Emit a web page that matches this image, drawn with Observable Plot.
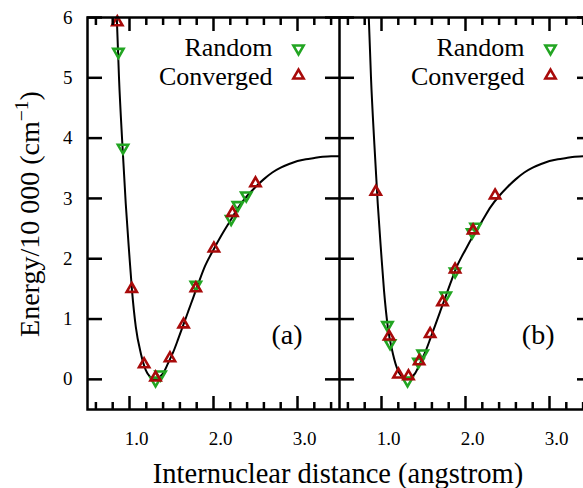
<!DOCTYPE html>
<html><head><meta charset="utf-8">
<script src="https://cdn.jsdelivr.net/npm/d3@7"></script>
<script src="https://cdn.jsdelivr.net/npm/@observablehq/plot@0.6"></script>
<style>
body{margin:0;background:#fff;}
#wrap{position:relative;width:583px;height:488px;overflow:hidden;background:#fff;font-family:"Liberation Serif",serif;color:#000;}
.panel{position:absolute;top:0;height:460px;}
.panel svg{max-width:none !important;}
#ylab{position:absolute;left:30px;top:214px;transform:translate(-50%,-50%) rotate(-90deg);white-space:nowrap;font-size:28px;line-height:1.1;}
#ylab sup{font-size:0.7em;line-height:0;vertical-align:0.55em;}
#xlab{position:absolute;left:338px;top:474px;transform:translate(-50%,-50%);white-space:nowrap;font-size:28.5px;line-height:1.1;}
</style></head><body>
<div id="wrap">
  <div id="pa" class="panel" style="left:0;width:339px"></div>
  <div id="pb" class="panel" style="left:339px;width:252px"></div>
  <div id="ylab">Energy/10 000 (cm<sup>−1</sup>)</div>
  <div id="xlab">Internuclear distance (angstrom)</div>
</div>
<script>
// Potential curve
const curveR = [0.835, 0.85, 0.875, 0.915, 0.955, 0.995, 1.03, 1.075, 1.135, 1.195, 1.245, 1.29, 1.32, 1.36, 1.40, 1.46, 1.52, 1.58, 1.64, 1.70, 1.76, 1.82, 1.90, 2.0, 2.1, 2.2, 2.3, 2.4, 2.5, 2.6, 2.7, 2.8, 2.9, 3.0, 3.1, 3.2, 3.3, 3.4, 3.5];
const curveE = [6.4, 5.95, 5.0, 3.9, 2.92, 2.12, 1.47, 0.87, 0.43, 0.15, 0.04, 0.0, 0.0, 0.04, 0.10, 0.27, 0.45, 0.67, 0.90, 1.13, 1.36, 1.59, 1.88, 2.15, 2.40, 2.63, 2.86, 3.04, 3.19, 3.32, 3.43, 3.51, 3.57, 3.62, 3.65, 3.67, 3.69, 3.70, 3.70];

// Panel (a)
const randA_R = [0.868, 0.923, 1.31, 1.37, 1.79, 2.21, 2.29, 2.39];
const randA_E = [5.43, 3.84, -0.02, 0.08, 1.57, 2.66, 2.89, 3.05];
const convA_R = [0.855, 1.027, 1.174, 1.31, 1.482, 1.644, 1.79, 2.005, 2.225, 2.50];
const convA_E = [5.92, 1.50, 0.25, 0.03, 0.35, 0.91, 1.51, 2.17, 2.76, 3.25];

// Panel (b)
const randB_R = [1.071, 1.102, 1.31, 1.44, 1.49, 1.765, 1.876, 2.08, 2.12];
const randB_E = [0.90, 0.60, -0.02, 0.29, 0.43, 1.39, 1.79, 2.44, 2.53];
const convB_R = [0.932, 1.09, 1.202, 1.321, 1.448, 1.579, 1.726, 1.876, 2.09, 2.352];
const convB_E = [3.11, 0.71, 0.08, 0.05, 0.30, 0.75, 1.28, 1.82, 2.47, 3.05];

const yTicks = [0, 1, 2, 3, 4, 5, 6];
const xMajor = [1, 2, 3];
const xMinor = [0.6, 0.8, 1.2, 1.4, 1.6, 1.8, 2.2, 2.4, 2.6, 2.8, 3.2, 3.4];
const legendLabels = ["Random", "Converged"];
const panelLabels = ["(a)", "(b)"];

const RED = "#a80a0a", GREEN = "#22a522";

function pts(rs, es) { return rs.map((r, i) => ({r, e: es[i]})); }

function panel({randR, randE, convR, convE, label, first}) {
  const fs = "Liberation Serif";
  const tick = {strokeWidth: 2.5, fill: "none", label: null};
  const sym = {r: 3.8, strokeWidth: 2.6, fill: "none"};
  return Plot.plot({
    width: first ? 339 : 252,
    height: 460,
    marginLeft: first ? 87 : 0, marginRight: 0, marginTop: 17, marginBottom: 51,
    x: {domain: [0.5, 3.5]},
    y: {domain: [-0.5, 6]},
    style: {fontFamily: fs, background: "transparent", color: "#000", overflow: "hidden", maxWidth: "none"},
    marks: [
      Plot.line(pts(curveR, curveE), {x: "r", y: "e", curve: "monotone-x", stroke: "#000", strokeWidth: 2, clip: true}),
      Plot.dot(pts(randR, randE), {x: "r", y: "e", symbol: "triangle", rotate: 180, stroke: GREEN, ...sym}),
      Plot.dot(pts(convR, convE), {x: "r", y: "e", symbol: "triangle", stroke: RED, ...sym}),
      Plot.axisY({anchor: "left", ticks: yTicks, tickSize: -15, ...tick}),
      Plot.axisY({anchor: "right", ticks: yTicks, tickSize: -15, ...tick}),
      Plot.axisX({anchor: "bottom", ticks: xMajor, tickSize: -13, ...tick}),
      Plot.axisX({anchor: "bottom", ticks: xMinor, tickSize: -7, ...tick}),
      Plot.axisX({anchor: "top", ticks: xMajor, tickSize: -13, ...tick}),
      Plot.axisX({anchor: "top", ticks: xMinor, tickSize: -7, ...tick}),
      first ? Plot.axisY({anchor: "left", ticks: yTicks, tickSize: 0, tickPadding: 15, tickFormat: d => String(d), fontSize: 19, fontFamily: fs, label: null}) : null,
      Plot.axisX({anchor: "bottom", ticks: xMajor, tickSize: 0, tickPadding: 22, tickFormat: d3.format(".1f"), dx: 7, fontSize: 19, fontFamily: fs, label: null}),
      Plot.frame({stroke: "#000", strokeWidth: 2.5}),
      Plot.text([legendLabels[0]], {frameAnchor: "top-right", dx: -67, dy: 30, textAnchor: "end", lineAnchor: "middle", fontSize: 26, fontFamily: fs}),
      Plot.text([legendLabels[1]], {frameAnchor: "top-right", dx: -67, dy: 59, textAnchor: "end", lineAnchor: "middle", fontSize: 26, fontFamily: fs}),
      Plot.dot([legendLabels[0]], {frameAnchor: "top-right", dx: -41, dy: 31, symbol: "triangle", rotate: 180, stroke: GREEN, ...sym}),
      Plot.dot([legendLabels[1]], {frameAnchor: "top-right", dx: -41, dy: 58, symbol: "triangle", stroke: RED, ...sym}),
      Plot.text([label], {frameAnchor: "bottom-right", dx: -37, dy: -74, textAnchor: "end", lineAnchor: "middle", fontSize: 28, fontFamily: fs})
    ]
  });
}

document.getElementById("pa").appendChild(panel({randR: randA_R, randE: randA_E, convR: convA_R, convE: convA_E, label: panelLabels[0], first: true}));
document.getElementById("pb").appendChild(panel({randR: randB_R, randE: randB_E, convR: convB_R, convE: convB_E, label: panelLabels[1], first: false}));
</script>
</body></html>
